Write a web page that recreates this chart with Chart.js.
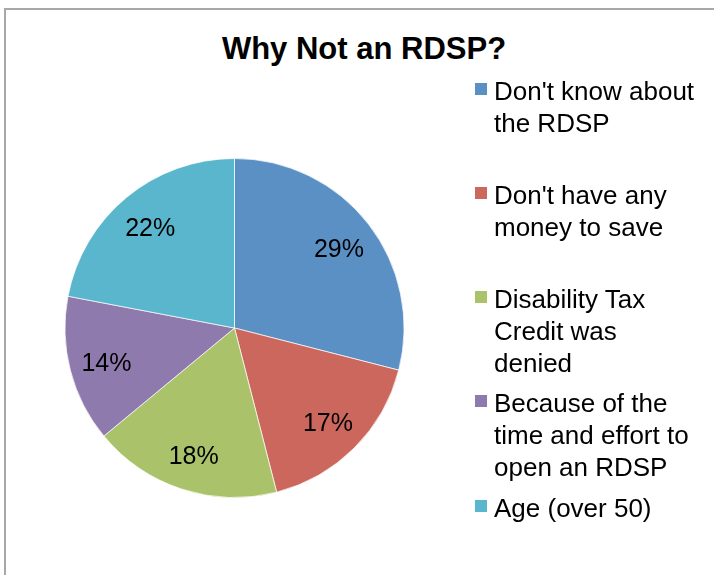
<!DOCTYPE html>
<html>
<head>
<meta charset="utf-8">
<script src="https://cdn.jsdelivr.net/npm/chart.js@4"></script>
<style>
  html, body { margin: 0; padding: 0; background: #fff; }
  body { width: 714px; height: 575px; position: relative; overflow: hidden;
         font-family: "Liberation Sans", Arial, sans-serif; }
  #frame { position: absolute; left: 4px; top: 8px; width: 720px; height: 600px;
           border-top: 2px solid #a8a8a8; border-left: 2px solid #a8a8a8; box-sizing: border-box; }
  #title { position: absolute; left: 0; width: 728px; top: 29px; text-align: center;
           font-weight: bold; font-size: 31px; line-height: 40px; color: #000; white-space: nowrap; }
  #wrap { position: absolute; left: 0; top: 0; width: 714px; height: 575px; }
  .li { position: absolute; left: 475px; font-size: 26px; line-height: 32px; color: #000; white-space: nowrap; }
  .li .sw { position: absolute; left: 0; top: 8px; width: 12px; height: 12px; }
  .li .tx { position: absolute; left: 19px; top: 0; }
</style>
</head>
<body>
<div id="frame"></div>
<div id="title"></div>
<div id="wrap"><canvas id="c" width="714" height="575"></canvas></div>
<div id="legend"></div>
<script>
const chartTitle = "Why Not an RDSP?";
const categories = [
  "Don't know about the RDSP",
  "Don't have any money to save",
  "Disability Tax Credit was denied",
  "Because of the time and effort to open an RDSP",
  "Age (over 50)"
];
const legendLines = [
  ["Don't know about", "the RDSP"],
  ["Don't have any", "money to save"],
  ["Disability Tax", "Credit was", "denied"],
  ["Because of the", "time and effort to", "open an RDSP"],
  ["Age (over 50)"]
];
const values = [29, 17, 18, 14, 22];
const colors = ["#5b90c5", "#cb675c", "#aac36b", "#8f7aae", "#5ab6cc"];

document.getElementById('title').textContent = chartTitle;

// HTML legend
const leg = document.getElementById('legend');
legendLines.forEach((lines, i) => {
  const d = document.createElement('div');
  d.className = 'li';
  d.style.top = (74.5 + i * 104.3) + 'px';
  const sw = document.createElement('div');
  sw.className = 'sw';
  sw.style.background = colors[i];
  const tx = document.createElement('div');
  tx.className = 'tx';
  tx.innerHTML = lines.map(s => s.replace(/&/g, '&amp;').replace(/</g, '&lt;')).join('<br>');
  d.appendChild(sw); d.appendChild(tx);
  leg.appendChild(d);
});

const pctLabels = {
  id: 'pctLabels',
  afterDatasetsDraw(chart) {
    const ctx = chart.ctx;
    const meta = chart.getDatasetMeta(0);
    const total = chart.data.datasets[0].data.reduce((a, b) => a + b, 0);
    ctx.save();
    ctx.font = '25px "Liberation Sans", Arial, sans-serif';
    ctx.fillStyle = '#000';
    ctx.textAlign = 'center';
    ctx.textBaseline = 'middle';
    meta.data.forEach((arc, i) => {
      const p = arc.getProps(['x', 'y', 'startAngle', 'endAngle', 'outerRadius'], true);
      const mid = (p.startAngle + p.endAngle) / 2;
      const r = p.outerRadius * 0.78;
      const v = chart.data.datasets[0].data[i];
      ctx.fillText(Math.round(v / total * 100) + '%', p.x + Math.cos(mid) * r, p.y + Math.sin(mid) * r + 3);
    });
    ctx.restore();
  }
};

new Chart(document.getElementById('c'), {
  type: 'pie',
  data: {
    labels: categories,
    datasets: [{
      data: values,
      backgroundColor: colors,
      borderColor: 'rgba(255,255,255,0.7)',
      borderWidth: 1
    }]
  },
  options: {
    responsive: false,
    animation: false,
    layout: { padding: { left: 64, right: 309, top: 158, bottom: 77 } },
    plugins: {
      legend: { display: false },
      title: { display: false },
      tooltip: { enabled: false }
    }
  },
  plugins: [pctLabels]
});
</script>
</body>
</html>
